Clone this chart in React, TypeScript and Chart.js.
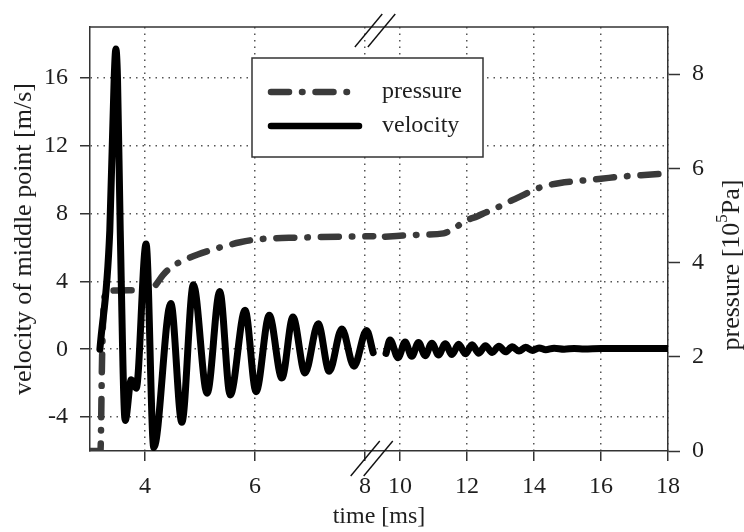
import React, { useEffect, useRef } from "react";
import { Chart, registerables } from "chart.js";

Chart.register(...registerables);

// ---- tick labels ----
const X_TICKS = [4, 6, 8, 10, 12, 14, 16, 18];
const VEL_TICKS = [-4, 0, 4, 8, 12, 16];
const PRES_TICKS = [0, 2, 4, 6, 8];

// ---- velocity of middle point [m/s] (left axis) ----
const velEarlyT = [3.18, 3.36, 3.44, 3.47, 3.5, 3.55, 3.64, 3.75, 3.84, 4.02, 4.16, 4.47, 4.67, 4.88, 5.13, 5.36, 5.55, 5.82, 6.02, 6.26, 6.49, 6.69, 6.91, 7.15, 7.35, 7.58, 7.8, 8.03, 8.15];
const velEarlyV = [0, 7, 16, 17.7, 16, 7, -4.2, -1.8, -2.3, 6.2, -5.8, 2.7, -4.3, 3.8, -2.6, 3.4, -2.7, 2.3, -2.5, 2.0, -1.7, 1.9, -1.4, 1.5, -1.3, 1.2, -1.0, 1.1, -0.2];
const velLateT = [9.58, 9.7, 9.94, 10.15, 10.35, 10.55, 10.75, 10.95, 11.15, 11.35, 11.55, 11.75, 11.95, 12.15, 12.35, 12.55, 12.75, 12.95, 13.15, 13.35, 13.55, 13.75, 13.95, 14.15, 14.35, 14.6, 14.9, 15.2, 15.5, 16.0, 17.0, 18.0];
const velLateV = [-0.25, 0.55, -0.5, 0.42, -0.42, 0.4, -0.38, 0.36, -0.34, 0.33, -0.31, 0.29, -0.27, 0.26, -0.23, 0.21, -0.19, 0.18, -0.15, 0.14, -0.11, 0.11, -0.07, 0.08, -0.03, 0.06, 0.0, 0.05, 0.02, 0.04, 0.04, 0.04];

// ---- pressure [10^5 Pa] (right axis) ----
const presEarlyT = [3.0, 3.19, 3.22, 3.26, 3.32, 4.1, 4.2, 4.33, 4.5, 4.73, 4.96, 5.36, 5.73, 6.03, 6.82, 8.15];
const presEarlyV = [0, 0, 2.0, 3.25, 3.4, 3.42, 3.53, 3.74, 3.92, 4.06, 4.17, 4.32, 4.43, 4.49, 4.53, 4.56];
const presLateT = [9.55, 10.6, 11.3, 11.55, 12.0, 12.3, 12.55, 13.0, 13.37, 13.64, 13.95, 14.3, 14.78, 15.3, 16.0, 16.7, 17.3, 18.0];
const presLateV = [4.55, 4.59, 4.62, 4.7, 4.9, 4.98, 5.06, 5.2, 5.33, 5.42, 5.53, 5.62, 5.69, 5.73, 5.78, 5.83, 5.86, 5.89];

// ---- broken time axis ----
const T_MIN = 3;
const LEFT_END = 8.2;
const RIGHT_START = 9.28;
const RIGHT_SCALE = 0.609;
const tx = (t: number) => (t <= LEFT_END ? t : LEFT_END + (t - RIGHT_START) * RIGHT_SCALE);

const SERIF = "'Liberation Serif', 'Times New Roman', serif";
const INK = "#1e1e1e";
const AXIS = "#333";
const GRID = "#555";
const VEL_COLOR = "#000";
const PRES_COLOR = "#3a3a3a";
const PRES_DASH = [18, 13, 0.5, 13];

const series = (ta: number[], va: number[], tb: number[], vb: number[]) => [
  ...ta.map((t, i) => ({ x: tx(t), y: va[i] })),
  { x: LEFT_END + 0.01, y: null as any },
  ...tb.map((t, i) => ({ x: tx(t), y: vb[i] })),
];

const framePlugin = {
  id: "frame",
  afterDraw(chart: any) {
    const { ctx, chartArea: a } = chart;
    ctx.save();
    ctx.strokeStyle = AXIS;
    ctx.lineWidth = 1.5;
    ctx.beginPath();
    ctx.moveTo(a.left, a.top);
    ctx.lineTo(a.right, a.top);
    ctx.stroke();
    // break marks
    const xb = chart.scales.x.getPixelForValue(LEFT_END) + 2;
    ctx.strokeStyle = "#111";
    ctx.lineWidth = 1.4;
    const k = 0.83;
    const marks = [
      { y: a.top, down: 20, up: 13 },
      { y: a.bottom, down: 25, up: 10 },
    ];
    for (const m of marks) {
      for (const d of [-6.5, 6.5]) {
        const cx = xb + d;
        ctx.beginPath();
        ctx.moveTo(cx - k * m.down, m.y + m.down);
        ctx.lineTo(cx + k * m.up, m.y - m.up);
        ctx.stroke();
      }
    }
    // right axis title (reads bottom to top)
    const yScale = chart.scales.y1;
    ctx.fillStyle = INK;
    ctx.textBaseline = "middle";
    const main = "26px " + SERIF;
    const sup = "17px " + SERIF;
    const p1 = "pressure [10";
    const p2 = "5";
    const p3 = "Pa]";
    ctx.font = main;
    const w1 = ctx.measureText(p1).width;
    const w3 = ctx.measureText(p3).width;
    ctx.font = sup;
    const w2 = ctx.measureText(p2).width;
    const total = w1 + w2 + w3;
    ctx.translate(yScale.right - 12, 265);
    ctx.rotate(-Math.PI / 2);
    let x = -total / 2;
    ctx.textAlign = "left";
    ctx.font = main;
    ctx.fillText(p1, x, 0);
    x += w1;
    ctx.font = sup;
    ctx.fillText(p2, x, -9);
    x += w2;
    ctx.font = main;
    ctx.fillText(p3, x, 0);
    ctx.restore();
  },
};

const legendPlugin = {
  id: "insetLegend",
  afterDatasetsDraw(chart: any) {
    const { ctx, chartArea: a } = chart;
    const x0 = a.left + 162;
    const y0 = a.top + 31;
    const w = 231;
    const h = 99;
    ctx.save();
    ctx.fillStyle = "#fff";
    ctx.fillRect(x0, y0, w, h);
    ctx.strokeStyle = AXIS;
    ctx.lineWidth = 1.5;
    ctx.strokeRect(x0, y0, w, h);
    const items = [
      { label: "pressure", color: PRES_COLOR, dash: PRES_DASH, width: 6.5, x1: x0 + 19, x2: x0 + 95, y: y0 + 34 },
      { label: "velocity", color: VEL_COLOR, dash: [], width: 6.5, x1: x0 + 19, x2: x0 + 107, y: y0 + 68 },
    ];
    ctx.lineCap = "round";
    for (const it of items) {
      ctx.strokeStyle = it.color;
      ctx.lineWidth = it.width;
      ctx.setLineDash(it.dash);
      ctx.beginPath();
      ctx.moveTo(it.x1, it.y);
      ctx.lineTo(it.x2, it.y);
      ctx.stroke();
      ctx.setLineDash([]);
      ctx.fillStyle = INK;
      ctx.font = "24px " + SERIF;
      ctx.textBaseline = "middle";
      ctx.textAlign = "left";
      ctx.fillText(it.label, x0 + 130, it.y);
    }
    ctx.restore();
  },
};

export default function App() {
  const ref = useRef<HTMLCanvasElement>(null);
  useEffect(() => {
    if (!ref.current) return;
    Chart.defaults.font.family = SERIF;
    Chart.defaults.font.size = 24;
    Chart.defaults.color = INK;
    const gridOpts = { color: GRID, lineWidth: 1.5, tickLength: 10, tickColor: AXIS, tickWidth: 1.5 };
    const chart = new Chart(ref.current, {
      type: "line",
      data: {
        datasets: [
          {
            label: "velocity",
            data: series(velEarlyT, velEarlyV, velLateT, velLateV),
            yAxisID: "y",
            borderColor: VEL_COLOR,
            borderWidth: 7,
            pointRadius: 0,
            cubicInterpolationMode: "monotone",
            borderCapStyle: "round",
            borderJoinStyle: "round",
            spanGaps: false,
            order: 0,
          },
          {
            label: "pressure",
            data: series(presEarlyT, presEarlyV, presLateT, presLateV),
            yAxisID: "y1",
            borderColor: PRES_COLOR,
            borderWidth: 6.5,
            borderDash: PRES_DASH,
            pointRadius: 0,
            cubicInterpolationMode: "monotone",
            borderCapStyle: "round",
            borderJoinStyle: "round",
            spanGaps: false,
            order: 1,
          },
        ],
      },
      options: {
        animation: false,
        responsive: false,
        maintainAspectRatio: false,
        layout: { padding: { top: 27, left: 0, right: 0, bottom: 0 } },
        plugins: { legend: { display: false }, tooltip: { enabled: false } },
        scales: {
          x: {
            type: "linear",
            min: T_MIN,
            max: tx(18),
            afterBuildTicks: (s: any) => {
              s.ticks = X_TICKS.map((t) => ({ value: tx(t) }));
            },
            afterFit: (s: any) => {
              s.height = 81;
            },
            ticks: {
              autoSkip: false,
              maxRotation: 0,
              padding: 11,
              color: INK,
              callback: (_v: any, i: number) => String(X_TICKS[i]),
            },
            grid: gridOpts,
            border: { color: AXIS, width: 1.5, dash: [1.5, 5] },
            title: { display: true, text: "time [ms]", color: INK, padding: { top: 0, bottom: 1 } },
          },
          y: {
            type: "linear",
            position: "left",
            min: -6,
            max: 19,
            afterBuildTicks: (s: any) => {
              s.ticks = VEL_TICKS.map((v) => ({ value: v }));
            },
            afterFit: (s: any) => {
              s.width = 90;
            },
            ticks: { padding: 12, color: INK, callback: (v: any) => String(v) },
            grid: gridOpts,
            border: { color: AXIS, width: 1.5, dash: [1.5, 5] },
            title: {
              display: true,
              text: "velocity of middle point [m/s]",
              color: INK,
              font: { size: 26 },
              padding: { top: 9, bottom: 0 },
            },
          },
          y1: {
            type: "linear",
            position: "right",
            min: 0,
            max: 9,
            afterBuildTicks: (s: any) => {
              s.ticks = PRES_TICKS.map((v) => ({ value: v }));
            },
            afterFit: (s: any) => {
              s.width = 76;
            },
            ticks: { padding: 12, color: INK, callback: (v: any) => String(v) },
            grid: { drawOnChartArea: false, tickLength: 12, tickColor: AXIS, tickWidth: 1.5 },
            border: { color: AXIS, width: 1.5 },
          },
        },
      },
      plugins: [legendPlugin, framePlugin],
    } as any);
    return () => chart.destroy();
  }, []);
  return (
    <div style={{ position: "absolute", left: 0, top: 0, width: 744, height: 532, background: "#fff" }}>
      <canvas ref={ref} width={744} height={532} style={{ display: "block", width: 744, height: 532 }} />
    </div>
  );
}
